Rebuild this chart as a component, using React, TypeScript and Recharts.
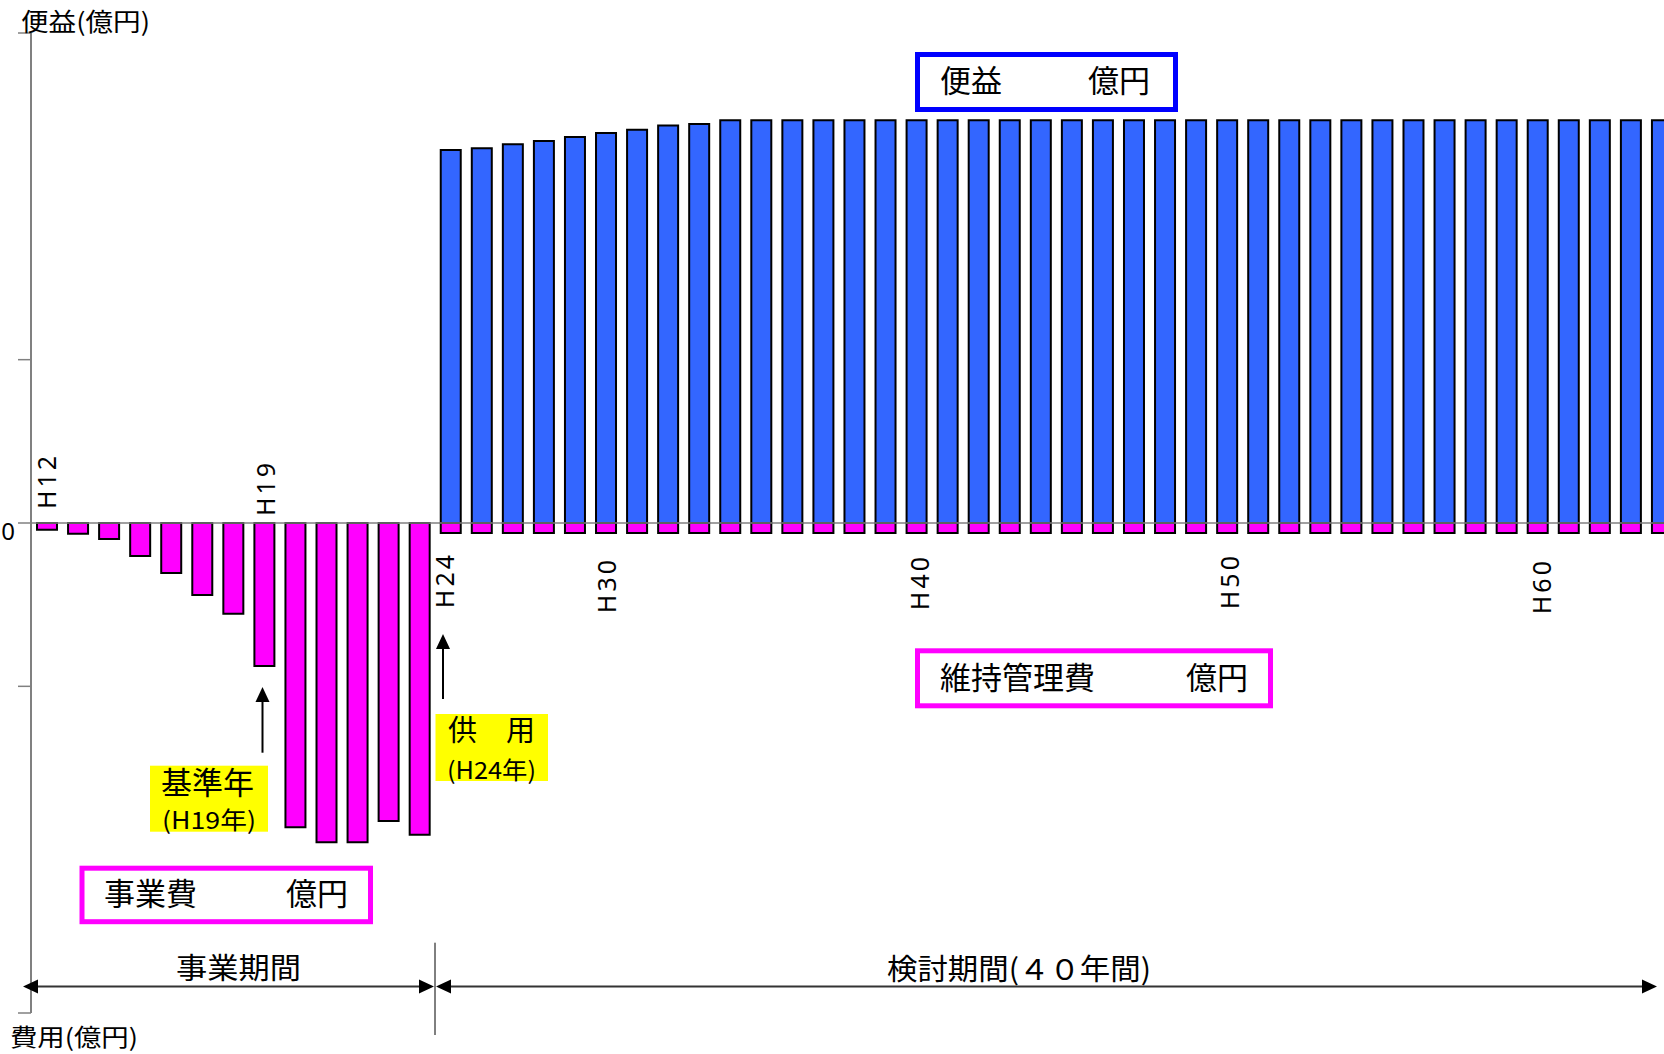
import React from "react";
import { BarChart, Bar, XAxis, YAxis, ReferenceLine, LabelList } from "recharts";

// ---- data ----
const years = [
  "H12", "H13", "H14", "H15", "H16", "H17", "H18", "H19", "H20", "H21", "H22", "H23", "H24",
  "H25", "H26", "H27", "H28", "H29", "H30", "H31", "H32", "H33", "H34", "H35", "H36", "H37",
  "H38", "H39", "H40", "H41", "H42", "H43", "H44", "H45", "H46", "H47", "H48", "H49", "H50",
  "H51", "H52", "H53", "H54", "H55", "H56", "H57", "H58", "H59", "H60", "H61", "H62", "H63", "H64",
];

// 便益 (benefit)
const benefit = [
  null, null, null, null, null, null, null, null, null, null, null, null, null,
  228.4, 229.5, 231.9, 233.9, 236.4, 238.7, 240.8, 243.3, 244.3, 246.6, 246.6, 246.6, 246.6,
  246.6, 246.6, 246.6, 246.6, 246.6, 246.6, 246.6, 246.6, 246.6, 246.6, 246.6, 246.6, 246.6,
  246.6, 246.6, 246.6, 246.6, 246.6, 246.6, 246.6, 246.6, 246.6, 246.6, 246.6, 246.6, 246.6, 246.6,
];

// 事業費 (H12–H24) / 維持管理費 (H25–)
const cost = [
  -4.1, -6.6, -9.8, -20.2, -30.6, -44.1, -55.6, -87.6, -186.2, -195.4, -195.4, -182.5, -190.9,
  -6.1, -6.1, -6.1, -6.1, -6.1, -6.1, -6.1, -6.1, -6.1, -6.1, -6.1, -6.1, -6.1,
  -6.1, -6.1, -6.1, -6.1, -6.1, -6.1, -6.1, -6.1, -6.1, -6.1, -6.1, -6.1, -6.1,
  -6.1, -6.1, -6.1, -6.1, -6.1, -6.1, -6.1, -6.1, -6.1, -6.1, -6.1, -6.1, -6.1, -6.1,
];

const yTicks = [-300, -100, 0, 100, 300];
const labeledYears = ["H12", "H19", "H24", "H30", "H40", "H50", "H60"];

const data = years.map((year, i) => ({ year, benefit: benefit[i], cost: cost[i] }));

const CJK = '"Noto Sans CJK JP", "Noto Sans CJK SC", sans-serif';
const LATIN = '"Noto Sans", "DejaVu Sans", sans-serif';

const placement: Record<string, { dx: number; gap: number; above: boolean }> = {
  H12: { dx: -1, gap: 14, above: true },
  H19: { dx: 1, gap: 7, above: true },
  H24: { dx: 24, gap: 29, above: false },
  H30: { dx: 0, gap: 34, above: false },
  H40: { dx: 2, gap: 31, above: false },
  H50: { dx: 2, gap: 30, above: false },
  H60: { dx: 3, gap: 35, above: false },
};

const YearLabel = (props: any) => {
  const vb = props.viewBox ?? props;
  const name = String(props.value);
  if (!labeledYears.includes(name)) return <g />;
  const p = placement[name];
  const x = Number(vb.x);
  const y = Number(vb.y);
  const w = Number(vb.width);
  const h = Number(vb.height);
  const zeroY = Math.min(y, y + h);
  const cx = x + w / 2 + p.dx;
  const ay = p.above ? zeroY - p.gap : zeroY + p.gap;
  return (
    <text
      x={cx}
      y={ay}
      transform={`rotate(-90 ${cx} ${ay})`}
      textAnchor={p.above ? "start" : "end"}
      dominantBaseline="central"
      fontSize={25}
      letterSpacing={3}
      fontFamily={LATIN}
      fill="#000"
    >
      {name}
    </text>
  );
};

const ZeroTick = (props: any) => {
  const { payload, y } = props;
  if (payload.value !== 0) return <g />;
  return (
    <text x={15} y={y + 17} textAnchor="end" fontSize={24} fontFamily={LATIN} fill="#000">
      0
    </text>
  );
};

const Arrow = ({ x, bottom, tip }: { x: number; bottom: number; tip: number }) => (
  <g>
    <line x1={x} y1={bottom} x2={x} y2={tip + 12} stroke="#000" strokeWidth={2} />
    <polygon points={`${x},${tip} ${x - 7},${tip + 15} ${x + 7},${tip + 15}`} fill="#000" />
  </g>
);

const Overlay = () => (
  <svg
    width={1664}
    height={1054}
    style={{ position: "absolute", left: 0, top: 0, pointerEvents: "none" }}
  >
    {/* axis titles */}
    <text x={21} y={31} fontSize={25} fontFamily={CJK} textLength={129} lengthAdjust="spacingAndGlyphs">
      便益(億円)
    </text>
    <text x={10} y={1046} fontSize={24} fontFamily={CJK} textLength={128} lengthAdjust="spacingAndGlyphs">
      費用(億円)
    </text>

    {/* 便益 box */}
    <rect x={917.5} y={54.5} width={258} height={55} fill="#fff" stroke="#0000FF" strokeWidth={5} />
    <text x={940} y={92} fontSize={31} fontFamily={CJK}>便益</text>
    <text x={1088} y={92} fontSize={31} fontFamily={CJK}>億円</text>

    {/* 維持管理費 box */}
    <rect x={917.5} y={650.8} width={353} height={55} fill="#fff" stroke="#FF00FF" strokeWidth={5} />
    <text x={940} y={689} fontSize={31} fontFamily={CJK}>維持管理費</text>
    <text x={1186} y={689} fontSize={31} fontFamily={CJK}>億円</text>

    {/* 事業費 box */}
    <rect x={82} y={868.2} width={288.5} height={53.5} fill="#fff" stroke="#FF00FF" strokeWidth={5} />
    <text x={104} y={905} fontSize={31} fontFamily={CJK}>事業費</text>
    <text x={286} y={905} fontSize={31} fontFamily={CJK}>億円</text>

    {/* 基準年 */}
    <rect x={150} y={765.7} width={118} height={66} fill="#FFFF00" />
    <text x={161} y={794} fontSize={31} fontFamily={CJK}>基準年</text>
    <text x={162} y={829} fontSize={24} fontFamily={CJK} textLength={94} lengthAdjust="spacingAndGlyphs">
      (H19年)
    </text>
    <Arrow x={262.5} bottom={752.7} tip={687} />

    {/* 供用 */}
    <rect x={435.5} y={714} width={112.5} height={67} fill="#FFFF00" />
    <text x={448} y={741} fontSize={29} fontFamily={CJK}>供　用</text>
    <text x={447} y={779} fontSize={24} fontFamily={CJK} textLength={89} lengthAdjust="spacingAndGlyphs">
      (H24年)
    </text>
    <Arrow x={443} bottom={699} tip={634} />

    {/* period arrows */}
    <line x1={435} y1={942.7} x2={435} y2={1035} stroke="#000" strokeWidth={1} />
    <line x1={30} y1={986.5} x2={428} y2={986.5} stroke="#333" strokeWidth={2} />
    <line x1={442} y1={986.5} x2={1650} y2={986.5} stroke="#333" strokeWidth={2} />
    <polygon points="23,986.5 38,979.5 38,993.5" fill="#000" />
    <polygon points="434,986.5 419,979.5 419,993.5" fill="#000" />
    <polygon points="436,986.5 451,979.5 451,993.5" fill="#000" />
    <polygon points="1657,986.5 1642,979.5 1642,993.5" fill="#000" />
    <text x={176} y={979} fontSize={29} fontFamily={CJK} textLength={125} lengthAdjust="spacingAndGlyphs">
      事業期間
    </text>
    <text x={887} y={980} fontSize={29} fontFamily={CJK} textLength={264} lengthAdjust="spacingAndGlyphs">
      検討期間(４０年間)
    </text>
  </svg>
);

export default function App() {
  return (
    <div
      style={{
        position: "fixed",
        left: 0,
        top: 0,
        width: 1664,
        height: 1054,
        overflow: "hidden",
        background: "#fff",
      }}
    >
      <BarChart
        width={1677}
        height={1054}
        data={data}
        stackOffset="sign"
        margin={{ top: 33, right: 0, bottom: 41, left: 0 }}
      >
        <XAxis dataKey="year" hide />
        <YAxis
          width={31}
          domain={[-300, 300]}
          ticks={yTicks}
          allowDataOverflow
          interval={0}
          tickSize={13}
          tickMargin={9}
          axisLine={{ stroke: "#808080", strokeWidth: 2 }}
          tickLine={{ stroke: "#808080", strokeWidth: 1.5 }}
          tick={<ZeroTick />}
        />
        <ReferenceLine y={0} stroke="#808080" strokeWidth={1.5} />
        <Bar
          dataKey="benefit"
          stackId="s"
          fill="#3366FF"
          stroke="#000"
          strokeWidth={2}
          barSize={20}
          isAnimationActive={false}
        />
        <Bar
          dataKey="cost"
          stackId="s"
          fill="#FF00FF"
          stroke="#000"
          strokeWidth={2}
          barSize={20}
          isAnimationActive={false}
        >
          <LabelList dataKey="year" content={<YearLabel />} />
        </Bar>
      </BarChart>
      <Overlay />
    </div>
  );
}
